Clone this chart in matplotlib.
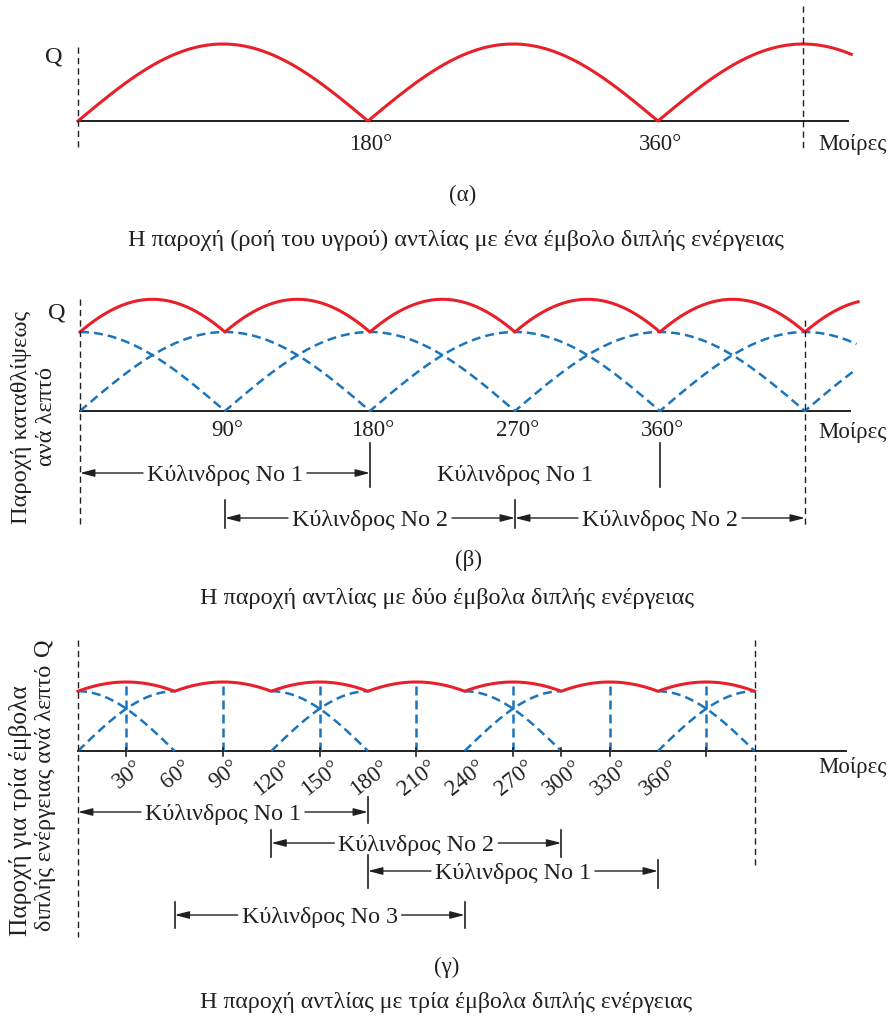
import numpy as np
import matplotlib.pyplot as plt

plt.rcParams['font.family'] = ['Liberation Serif', 'DejaVu Serif']

W, H = 893, 1016
S = 1.611  # pixels per degree on all three strips

RED = '#e8202a'
BLUE = '#1a75bc'
INK = '#231f20'
FS = 16.5      # tick labels, Q, Μοίρες
FS_CYL = 17.3  # Κύλινδρος labels
FS_CAP = 17.5  # captions

# ---- data -------------------------------------------------------------
theta_a = np.arange(0, 481)          # crank angle drawn in (a), degrees
theta_b = np.arange(0, 484)
theta_c = np.arange(0, 421)
phase_b = [0, 90]                    # two double-acting pistons
phase_c = [0, 60, 120]               # three double-acting pistons

ticks_a = [180, 360]
ticks_b = [90, 180, 270, 360]
ticks_c = [30, 60, 90, 120, 150, 180, 210, 240, 270, 300, 330, 360]
marks_c = [30, 90, 150, 210, 270, 300, 330, 390]
peaks_c = [30, 90, 150, 210, 270, 330, 390]
cross_c = [0, 120, 240, 360]
cross_w = 60
stop_a, stop_b, stop_c = 450, 450, 420

cyl_b_from = [0, 180, 90, 270]
cyl_b_to = [180, 360, 270, 450]
cyl_b_name = ['Κύλινδρος No 1', 'Κύλινδρος No 1', 'Κύλινδρος No 2', 'Κύλινδρος No 2']
cyl_b_arrow = [True, False, True, True]
bars_b = [180, 360, 90, 270]

cyl_c_from = [0, 120, 180, 60]
cyl_c_to = [180, 300, 360, 240]
cyl_c_name = ['Κύλινδρος No 1', 'Κύλινδρος No 2', 'Κύλινδρος No 1', 'Κύλινδρος No 3']
bars_c = [180, 120, 300, 180, 360, 60, 240]

fig = plt.figure(figsize=(W / 100, H / 100), dpi=100)
renderer = fig.canvas.get_renderer()


def panel(top, bottom, x0, y0, unit):
    ax = fig.add_axes([0, 1 - bottom / H, 1, (bottom - top) / H])
    ax.set_xlim(-x0 / S, (W - x0) / S)
    ax.set_ylim((y0 - bottom) / unit, (y0 - top) / unit)
    ax.axis('off')
    px = lambda p: (p - x0) / S
    py = lambda p: (y0 - p) / unit
    return ax, px, py


def dashed(ax, x, y1, y2):
    ax.plot([x, x], [y1, y2], color=INK, lw=1.0, ls=(0, (4.5, 3)), clip_on=False)


def span(ax, a, b, y, name, arrows=True):
    xm = (a + b) / 2
    t = ax.text(xm, y, name, ha='center', va='center_baseline', fontsize=FS_CYL, color=INK)
    if not arrows:
        return
    bb = t.get_window_extent(renderer)
    inv = ax.transData.inverted()
    left = inv.transform((bb.x0 - 4, 0))[0]
    right = inv.transform((bb.x1 + 4, 0))[0]
    ap = dict(arrowstyle='-|>,head_length=0.5,head_width=0.13', color=INK,
              lw=1.0, shrinkA=0, shrinkB=0, mutation_scale=FS_CYL)
    ax.annotate('', xy=(b, y), xytext=(right, y), arrowprops=ap)
    ax.annotate('', xy=(a, y), xytext=(left, y), arrowprops=ap)


blue_kw = dict(color=BLUE, lw=1.8, ls=(0, (3.6, 2.0)))

# ---- (a) single double-acting piston ------------------------------------
ax, px, py = panel(0, 260, 78, 121, 77)
ax.plot([0, 478], [0, 0], color=INK, lw=1.4)
ax.plot(theta_a, np.abs(np.sin(np.radians(theta_a))), color=RED, lw=2.2)
dashed(ax, 0, py(47), py(148))
dashed(ax, stop_a, py(6), py(148))
for t in ticks_a:
    ax.text(t + 1.5, py(142), f'{t}°', ha='center', va='center_baseline', fontsize=FS, color=INK)
ax.text(px(54), py(55), 'Q', ha='center', va='center_baseline', fontsize=FS + 1, color=INK)
ax.text(px(818), py(142), 'Μοίρες', ha='left', va='center_baseline', fontsize=FS, color=INK)
ax.text(px(463), py(193), '(α)', ha='center', va='center_baseline', fontsize=FS, color=INK)
ax.text(px(456), py(238), 'Η παροχή (ροή του υγρού) αντλίας με ένα έμβολο διπλής ενέργειας',
        ha='center', va='center_baseline', fontsize=FS_CAP, color=INK)

# ---- (b) two pistons --------------------------------------------------------
ax, px, py = panel(260, 610, 80, 411, 79)
ax.plot([0, 478], [0, 0], color=INK, lw=1.4)
flows_b = [np.abs(np.sin(np.radians(theta_b - p))) for p in phase_b]
for f in flows_b:
    ax.plot(theta_b[:-1], f[:-1], **blue_kw)
ax.plot(theta_b, np.sum(flows_b, axis=0), color=RED, lw=2.2)
dashed(ax, 0, py(299), py(528))
dashed(ax, stop_b, py(320), py(528))
for t in ticks_b:
    ax.text(t + 1.5, py(428), f'{t}°', ha='center', va='center_baseline', fontsize=FS, color=INK)
ax.text(px(57), py(310), 'Q', ha='center', va='center_baseline', fontsize=FS + 1, color=INK)
ax.text(px(818), py(430), 'Μοίρες', ha='left', va='center_baseline', fontsize=FS, color=INK)
rows_b = [473, 473, 518, 518]
for a, b, n, arr, r in zip(cyl_b_from, cyl_b_to, cyl_b_name, cyl_b_arrow, rows_b):
    span(ax, a, b, py(r), n, arr)
bar_rows_b = [(443, 487), (443, 487), (500, 528), (500, 528)]
for x, (r1, r2) in zip(bars_b, bar_rows_b):
    ax.plot([x, x], [py(r1), py(r2)], color=INK, lw=1.2)
ax.text(px(22), py(417), 'Παροχή καταθλίψεως', rotation=90, ha='center', va='center',
        fontsize=17.6, color=INK)
ax.text(px(47), py(416), 'ανά λεπτό', rotation=90, ha='center', va='center',
        fontsize=17.6, color=INK)
ax.text(px(468), py(558), '(β)', ha='center', va='center_baseline', fontsize=FS, color=INK)
ax.text(px(447), py(596), 'Η παροχή αντλίας με δύο έμβολα διπλής ενέργειας',
        ha='center', va='center_baseline', fontsize=FS_CAP, color=INK)

# ---- (c) three pistons ------------------------------------------------------
ax, px, py = panel(610, 1016, 78, 751, 34.5)
ax.plot([0, 477], [0, 0], color=INK, lw=1.4)
total_c = np.sum([np.abs(np.sin(np.radians(theta_c - p))) for p in phase_c], axis=0)
for s in cross_c:
    t = np.linspace(s, s + cross_w, 61)
    m = np.interp(s, theta_c, total_c)
    ang = np.radians(90 * (t - s) / cross_w)
    ax.plot(t, m * np.sin(ang), **blue_kw)
    ax.plot(t, m * np.cos(ang), **blue_kw)
for p in peaks_c:
    ax.plot([p, p], [0, np.interp(p, theta_c, total_c)], **blue_kw)
ax.plot(theta_c, total_c, color=RED, lw=2.2)
for t in marks_c:
    ax.plot([t, t], [py(748), py(756)], color=INK, lw=1.2)
dashed(ax, 0, py(640), py(937))
dashed(ax, stop_c, py(640), py(868))
for t in ticks_c:
    ax.text(t + 0.8, py(757), f'{t}°', ha='center', va='top', rotation=38,
            fontsize=16.5, color=INK)
ax.text(px(818), py(765), 'Μοίρες', ha='left', va='center_baseline', fontsize=FS, color=INK)
rows_c = [812, 843, 871, 915]
for a, b, n, r in zip(cyl_c_from, cyl_c_to, cyl_c_name, rows_c):
    span(ax, a, b, py(r), n)
bar_rows_c = [(797, 823), (830, 857), (830, 857), (855, 888), (860, 888), (902, 928), (902, 928)]
for x, (r1, r2) in zip(bars_c, bar_rows_c):
    ax.plot([x, x], [py(r1), py(r2)], color=INK, lw=1.2)
ax.text(px(20), py(811), 'Παροχή για τρία έμβολα', rotation=90, ha='center', va='center',
        fontsize=18.3, color=INK)
ax.text(px(45), py(798), 'διπλής ενέργειας ανά λεπτό', rotation=90, ha='center', va='center',
        fontsize=17.4, color=INK)
ax.text(px(43), py(647), 'Q', rotation=90, ha='center', va='center', fontsize=FS + 1, color=INK)
ax.text(px(447), py(965), '(γ)', ha='center', va='center_baseline', fontsize=FS, color=INK)
ax.text(px(446), py(1000), 'Η παροχή αντλίας με τρία έμβολα διπλής ενέργειας',
        ha='center', va='center_baseline', fontsize=17.2, color=INK)

fig.savefig('out.png', dpi=100)
